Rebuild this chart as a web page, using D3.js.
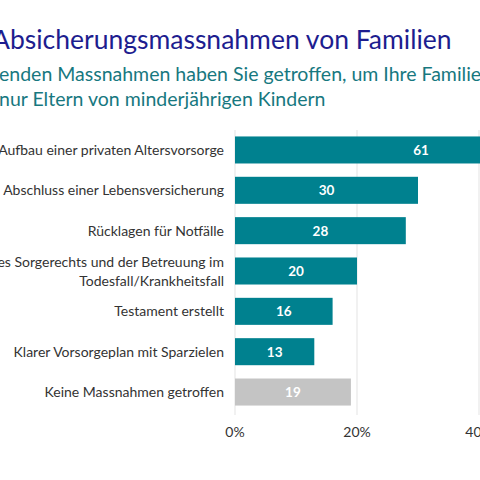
<!DOCTYPE html>
<html><head><meta charset="utf-8">
<script src="https://cdn.jsdelivr.net/npm/d3@7"></script>
<style>body{margin:0;background:#fff;overflow:hidden}text{font-family:Lato,"Noto Sans",sans-serif}</style>
</head><body><svg id="chart" width="480" height="480"></svg>
<script>
var categories = [
    ["Aufbau einer privaten Altersvorsorge"],
    ["Abschluss einer Lebensversicherung"],
    ["Rücklagen für Notfälle"],
    ["Regelung des Sorgerechts und der Betreuung im", "Todesfall/Krankheitsfall"],
    ["Testament erstellt"],
    ["Klarer Vorsorgeplan mit Sparzielen"],
    ["Keine Massnahmen getroffen"]
];
var values = [61, 30, 28, 20, 16, 13, 19];
var barColors = ["#00818f", "#00818f", "#00818f", "#00818f", "#00818f", "#00818f", "#c4c4c4"];
var ticks = [0, 20, 40];

var svg = d3.select("#chart");
var x = d3.scaleLinear().domain([0, 40]).range([235, 479]);
var y = d3.scaleBand().domain(d3.range(values.length)).range([130, 412]).paddingInner(0.33).paddingOuter(0.16);

svg.append("text").attr("x", -8).attr("y", 49).attr("font-size", 26.5).attr("fill", "#1d1d8f")
    .text("Absicherungsmassnahmen von Familien");
svg.append("text").attr("x", -1).attr("y", 81).attr("font-size", 19.5).attr("fill", "#17787f")
    .text("enden Massnahmen haben Sie getroffen, um Ihre Familie abzusichern?");
svg.append("text").attr("x", -1).attr("y", 106).attr("font-size", 19.5).attr("fill", "#17787f")
    .text("nur Eltern von minderjährigen Kindern");

svg.selectAll("line.grid").data(ticks).enter().append("line")
    .attr("x1", function(d){ return x(d); }).attr("x2", function(d){ return x(d); })
    .attr("y1", 130).attr("y2", 415).attr("stroke", "#e3e3e3").attr("stroke-width", 1);

svg.selectAll("rect.bar").data(values).enter().append("rect")
    .attr("x", x(0)).attr("y", function(d, i){ return y(i); })
    .attr("width", function(d){ return x(d) - x(0); }).attr("height", y.bandwidth())
    .attr("fill", function(d, i){ return barColors[i]; });

svg.selectAll("text.val").data(values).enter().append("text")
    .attr("x", function(d){ return Math.min((x(0) + x(d)) / 2, 422); })
    .attr("y", function(d, i){ return y(i) + y.bandwidth() / 2 + 5; })
    .attr("text-anchor", "middle").attr("font-size", 13.5).attr("font-weight", "bold").attr("fill", "#fff")
    .text(function(d){ return d; });

categories.forEach(function(lines, i){
    var cy = y(i) + y.bandwidth() / 2;
    lines.forEach(function(l, j){
        svg.append("text").attr("x", 224)
            .attr("y", cy + 5 + (j - (lines.length - 1) / 2) * 19)
            .attr("text-anchor", "end").attr("font-size", 14).attr("fill", "#333")
            .text(l);
    });
});

svg.selectAll("text.tick").data(ticks).enter().append("text")
    .attr("x", function(d){ return x(d); }).attr("y", 437)
    .attr("text-anchor", "middle").attr("font-size", 14).attr("fill", "#333")
    .text(function(d){ return d + "%"; });
</script></body></html>
